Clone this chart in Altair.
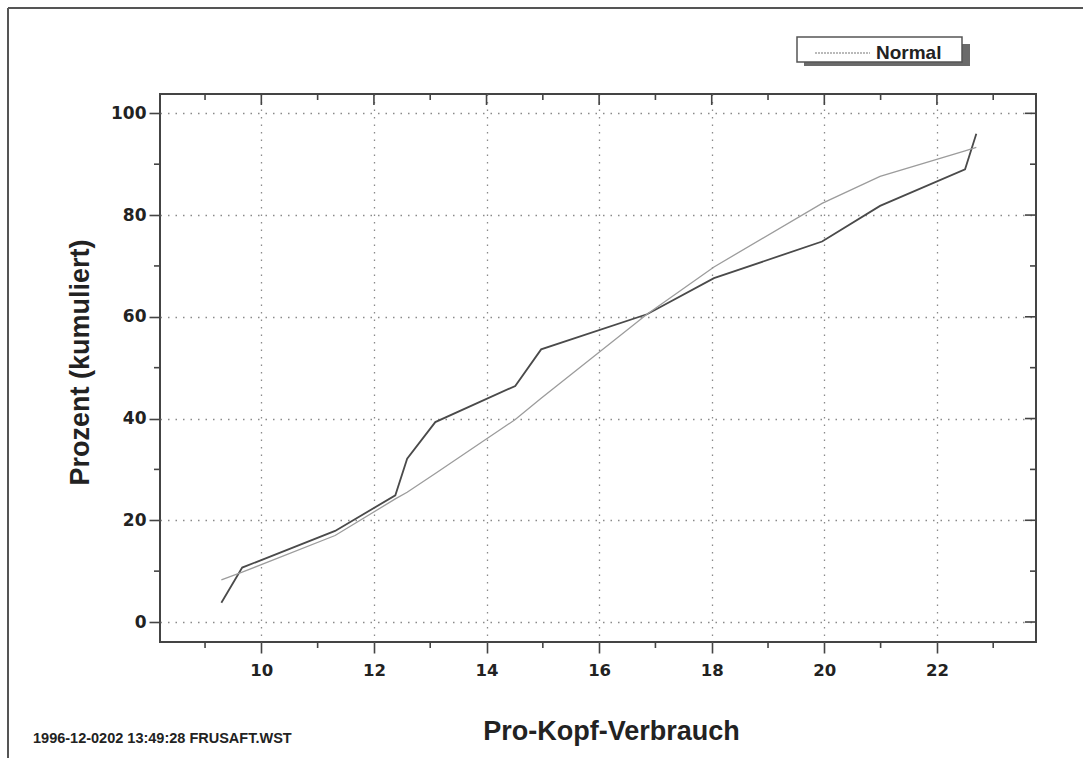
import altair as alt
import pandas as pd

# ---- data ----
emp_x = [9.29, 9.66, 11.31, 12.38, 12.59, 13.09, 14.51, 14.97, 16.85, 18.04, 19.96, 20.99, 22.50, 22.70]
emp_y = [3.8, 10.7, 17.9, 24.9, 32.1, 39.3, 46.4, 53.6, 60.5, 67.6, 74.8, 81.8, 89.0, 96.0]
norm_y = [8.3, 9.8, 17.0, 24.2, 25.5, 29.2, 39.8, 44.0, 60.5, 69.8, 82.3, 87.6, 92.6, 93.3]

x_major = [10, 12, 14, 16, 18, 20, 22]
x_minor = [9, 11, 13, 15, 17, 19, 21, 23]
y_major = [0, 20, 40, 60, 80, 100]
y_minor = [10, 30, 50, 70, 90]

x_title = "Pro-Kopf-Verbrauch"
y_title = "Prozent (kumuliert)"
legend_label = "Normal"
footer = "1996-12-0202  13:49:28  FRUSAFT.WST"

W, H = 876, 548
FONT = "Liberation Sans"
LFONT = "DejaVu Sans"
xs = alt.Scale(domain=[8.2, 23.76], nice=False, zero=False)
ys = alt.Scale(domain=[-3.93, 103.8], nice=False, zero=False)

emp = pd.DataFrame({"x": emp_x, "y": emp_y})
nrm = pd.DataFrame({"x": emp_x, "y": norm_y})
one = pd.DataFrame({"d": [0]})

x_axis = alt.Axis(values=x_major, format="d", grid=True, gridDash=[1.5, 6], gridColor="#8a8a8a",
                  gridWidth=1.3, domain=False, tickSize=11, tickWidth=1.6, tickColor="#444",
                  labelFont=LFONT, labelFontWeight="bold", labelFontSize=16.5, labelColor="#222",
                  labelPadding=9, title=x_title, titleFont=FONT, titleFontWeight="bold",
                  titleFontSize=27, titleColor="#222", titleX=451, titleY=97,
                  titleBaseline="alphabetic", titleAlign="center")
y_axis = alt.Axis(values=y_major, format="d", grid=True, gridDash=[1.5, 6], gridColor="#8a8a8a",
                  gridWidth=1.3, domain=False, tickSize=11, tickWidth=1.6, tickColor="#444",
                  labelFont=LFONT, labelFontWeight="bold", labelFontSize=17, labelColor="#222",
                  labelPadding=3, title=y_title, titleFont=FONT, titleFontWeight="bold",
                  titleFontSize=27, titleColor="#222", titleX=-80, titleY=268,
                  titleAngle=-90, titleBaseline="middle", titleAlign="center")

X = lambda f: alt.X(f, scale=xs, axis=x_axis)
Y = lambda f: alt.Y(f, scale=ys, axis=y_axis)

emp_line = alt.Chart(emp).mark_line(color="#4a4a4a", strokeWidth=1.8).encode(
    x=X("x:Q"), y=Y("y:Q"))
norm_line = alt.Chart(nrm).mark_line(color="#9c9c9c", strokeWidth=1.3).encode(
    x=X("x:Q"), y=Y("y:Q"))

tick_col = "#444"
xmaj = pd.DataFrame({"x": x_major})
xmin = pd.DataFrame({"x": x_minor})
ymaj = pd.DataFrame({"y": y_major})
ymin = pd.DataFrame({"y": y_minor})

def xt(df, y0, y1):
    return alt.Chart(df).mark_rule(color=tick_col, strokeWidth=1.6).encode(
        x=X("x:Q"), y=alt.value(y0), y2=alt.value(y1))

def yt(df, x0, x1):
    return alt.Chart(df).mark_rule(color=tick_col, strokeWidth=1.6).encode(
        y=Y("y:Q"), x=alt.value(x0), x2=alt.value(x1))

ticks = [
    xt(xmin, H, H + 6),          # bottom minor (outward)
    xt(xmaj, 0, 11),             # top major (inward)
    xt(xmin, 0, 6),              # top minor (inward)
    yt(ymin, -6, 0),             # left minor (outward)
    yt(ymaj, W - 11, W),         # right major (inward)
    yt(ymin, W - 6, W),          # right minor (inward)
]

# outer page frame (top and left edges)
frame_top = alt.Chart(one).mark_rule(color="#555", strokeWidth=2).encode(
    x=alt.value(-152), x2=alt.value(923), y=alt.value(-86))
frame_left = alt.Chart(one).mark_rule(color="#555", strokeWidth=2).encode(
    x=alt.value(-152), y=alt.value(-86), y2=alt.value(664))

# legend box with shadow
shadow = alt.Chart(one).mark_rect(color="#6a6a6a").encode(
    x=alt.value(644), x2=alt.value(810), y=alt.value(-50), y2=alt.value(-28))
box = alt.Chart(one).mark_rect(fill="white", stroke="#555", strokeWidth=1.5).encode(
    x=alt.value(637), x2=alt.value(802), y=alt.value(-57), y2=alt.value(-32))
sample = alt.Chart(one).mark_rule(color="#777", strokeWidth=1.2, strokeDash=[2, 1]).encode(
    x=alt.value(655), x2=alt.value(710), y=alt.value(-41))
leg_text = alt.Chart(pd.DataFrame({"t": [legend_label]})).mark_text(
    align="left", baseline="middle", font=FONT, fontWeight="bold", fontSize=19, color="#222"
).encode(text="t:N", x=alt.value(716), y=alt.value(-41))

foot = alt.Chart(pd.DataFrame({"t": [footer]})).mark_text(
    align="left", baseline="alphabetic", font=FONT, fontWeight="bold", fontSize=14.5, color="#222"
).encode(text="t:N", x=alt.value(-127), y=alt.value(649))

chart = alt.layer(
    emp_line, norm_line, *ticks, frame_top, frame_left, shadow, box, sample, leg_text, foot
).properties(
    width=W, height=H,
    autosize=alt.AutoSizeParams(type="none"),
    padding={"left": 160, "top": 94, "right": 47, "bottom": 116},
    background="white",
).configure_view(stroke="#444", strokeWidth=2)

chart.save("out.html", embed_options={"renderer": "svg", "actions": False})
